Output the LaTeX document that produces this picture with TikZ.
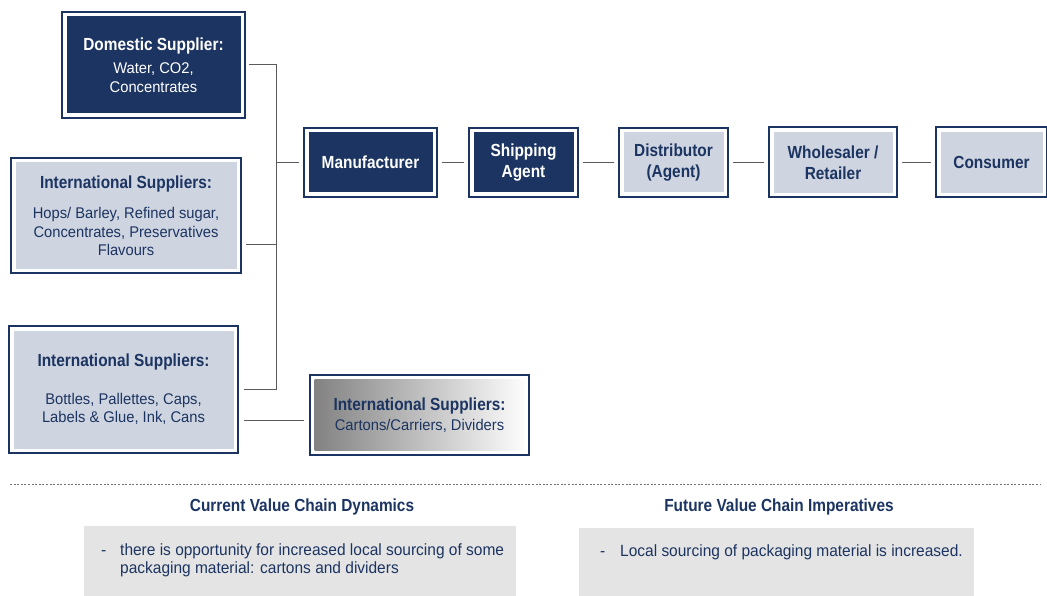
\documentclass[tikz,border=0pt]{standalone}
\usepackage{fontspec}
\setmainfont{Liberation Sans}[FakeStretch=0.95,BoldFeatures={FakeStretch=0.88}]
\usetikzlibrary{calc}
\definecolor{navy}{HTML}{1C3461}
\definecolor{pale}{HTML}{CED4E0}
\definecolor{linegray}{HTML}{5A5A5A}
\definecolor{notegray}{HTML}{E4E4E4}
\newcommand{\ttl}[1]{{\bfseries\fontsize{17.5}{21}\selectfont #1}}
\tikzset{
  framebox/.style={draw=navy, line width=2pt, fill=white, inner sep=0pt, align=center,
    font=\fontsize{15.5}{18.5}\selectfont},
  darkbox/.style={framebox, text=white,
    path picture={\fill[navy] ([shift={(4.5pt,4.5pt)}]path picture bounding box.south west) rectangle ([shift={(-4.5pt,-4.5pt)}]path picture bounding box.north east);}},
  palebox/.style={framebox, text=navy,
    path picture={\fill[pale] ([shift={(4.5pt,4.5pt)}]path picture bounding box.south west) rectangle ([shift={(-4.5pt,-4.5pt)}]path picture bounding box.north east);}},
  gradbox/.style={framebox, text=navy,
    path picture={\shade[left color=black!50, right color=white] ([shift={(4.5pt,4.5pt)}]path picture bounding box.south west) rectangle ([shift={(-4.5pt,-4.5pt)}]path picture bounding box.north east);}},
  conn/.style={draw=linegray, line width=1pt},
  chain/.style={conn, shorten <=4pt, shorten >=4pt},
  title/.style={font=\bfseries\fontsize{17.5}{21}\selectfont},
  heading/.style={text=navy, font=\bfseries\fontsize{17.5}{21}\selectfont},
  notetext/.style={text=navy, font=\fontsize{16.3}{18}\selectfont, align=left, anchor=base west, inner sep=0pt}
}
\begin{document}
\begin{tikzpicture}[x=1pt,y=-1pt]
\useasboundingbox (0,0) rectangle (1047,596);
% supplier boxes
\node[darkbox, minimum width=183, minimum height=106] (dom) at (153.5,65)
  {\ttl{Domestic Supplier:}\\[5pt] Water, CO2,\\ Concentrates};
\node[palebox, minimum width=230, minimum height=115] (int1) at (126,215.5)
  {\ttl{International Suppliers:}\\[12pt] Hops/ Barley, Refined sugar,\\ Concentrates, Preservatives\\ Flavours};
\node[palebox, minimum width=229, minimum height=127] (int2) at (123.5,389.5)
  {\ttl{International Suppliers:}\\[19pt] Bottles, Pallettes, Caps,\\ Labels \& Glue, Ink, Cans};
\node[gradbox, minimum width=219, minimum height=80] (cart) at (419.5,415)
  {\ttl{International Suppliers:}\\[2pt] Cartons/Carriers, Dividers};
% chain boxes
\node[darkbox, title, minimum width=133, minimum height=69] (man) at (370.5,162.5) {Manufacturer};
\node[darkbox, title, minimum width=109, minimum height=69] (ship) at (523.5,162.5) {Shipping\\Agent};
\node[palebox, title, minimum width=109, minimum height=69] (dist) at (673.5,162.5) {Distributor\\(Agent)};
\node[palebox, title, minimum width=128, minimum height=70] (whol) at (833,162.5) {Wholesaler /\\Retailer};
\node[palebox, title, minimum width=111, minimum height=70] (cons) at (991.5,162.5) {Consumer};
% bus connectors
\coordinate (busA) at (276,65);
\coordinate (busB) at (276,245);
\coordinate (busC) at (276,389);
\coordinate (busM) at (276,163);
\draw[conn] ($(dom.east)+(3,0)$) -- (busA) -- (busC) -- ($(int2.east |- busC)+(5,0)$);
\draw[conn] ($(int1.east |- busB)+(4,0)$) -- (busB);
\draw[conn] (busM) -- ($(man.west |- busM)+(-4,0)$);
\draw[conn] ($(int2.east)+(5,30.5)$) -- ($(cart.west)+(-5,5)$);
% chain connectors
\draw[chain] (man) -- (ship);
\draw[chain] (ship) -- (dist);
\draw[chain] (dist) -- (whol);
\draw[chain] (whol) -- (cons);
% separator
\coordinate (sepL) at (10,484);
\coordinate (sepR) at (1040,484);
\draw[draw=black!55, line width=0.8pt, dash pattern=on 2pt off 1.6pt] (sepL) -- (sepR);
% bottom section
\node[heading] (h1) at (302,507) {Current Value Chain Dynamics};
\node[heading] (h2) at (779,507) {Future Value Chain Imperatives};
\fill[notegray] (84,526) rectangle (516,596);
\fill[notegray] (579,528) rectangle (974,596);
\node[notetext] (d1) at (101,555.5) {-};
\node[notetext] (t1) at (120,573.5) {there is opportunity for increased local sourcing of some\\packaging material: cartons and dividers};
\node[notetext] (d2) at (600,556) {-};
\node[notetext] (t2) at (620,556) {Local sourcing of packaging material is increased.};
\end{tikzpicture}
\end{document}
